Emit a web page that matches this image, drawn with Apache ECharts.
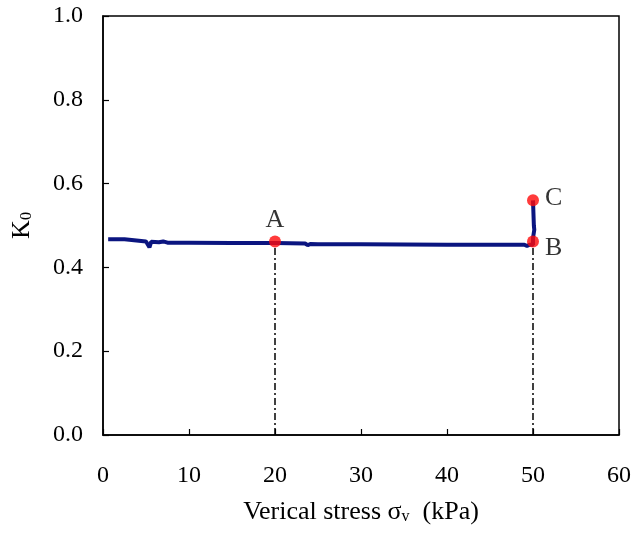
<!DOCTYPE html>
<html>
<head>
<meta charset="utf-8">
<script src="https://cdn.jsdelivr.net/npm/echarts@6/dist/echarts.min.js"></script>
<style>
  html, body { margin: 0; padding: 0; background: #fff; }
  #main { width: 634px; height: 538px; }
</style>
</head>
<body>
<div id="main"></div>
<script>
// measured K0 curve (stress kPa, K0)
var k0Curve = [
  [0.6, 0.467], [2.5, 0.467], [2.7, 0.463], [5.0, 0.462], [5.2, 0.465],
  [5.4, 0.448], [5.6, 0.461], [6.5, 0.460], [7.0, 0.462], [7.5, 0.459],
  [10, 0.459], [15, 0.458], [20, 0.458], [23.5, 0.457], [23.8, 0.453],
  [24.1, 0.456], [25, 0.455], [30, 0.455], [40, 0.454], [45, 0.454],
  [45.2, 0.452], [45.4, 0.454], [49, 0.454], [49.3, 0.451], [49.6, 0.454],
  [50, 0.454], [50, 0.47], [50.15, 0.49], [50.1, 0.5], [50, 0.56]
];
// key points
var pointNames = ['A', 'B', 'C'];
var pointValues = [[20, 0.462], [50, 0.462], [50, 0.56]];
// drop lines
var dropA = [[20, 0], [20, 0.462]];
var dropB = [[50, 0], [50, 0.462]];
var xTicks = [0, 10, 20, 30, 40, 50, 60];
var yTicks = [0, 0.2, 0.4, 0.6, 0.8, 1.0];

var font = 'Liberation Serif, Times New Roman, serif';
var chart = echarts.init(document.getElementById('main'));

var labelPos = { A: 'top', B: 'right', C: 'right' };
var labelOff = { A: [0, 2], B: [2, 7], C: [2, -2] };

chart.setOption({
  animation: false,
  grid: {
    left: 103, right: 13, top: 16, bottom: 103,
    show: true, borderColor: '#000', borderWidth: 1.5
  },
  xAxis: {
    type: 'value', min: 0, max: 60, interval: 10,
    axisLine: { lineStyle: { color: '#000', width: 1.5 } },
    axisTick: { inside: true, length: 6, lineStyle: { color: '#000', width: 1.2 } },
    splitLine: { show: false },
    axisLabel: { color: '#000', fontFamily: font, fontSize: 24, margin: 29 },
    name: '{n|Verical stress σ}{s|v}{n|  (kPa)}',
    nameLocation: 'middle', nameGap: 64,
    nameTextStyle: {
      rich: {
        n: { fontFamily: font, fontSize: 26, color: '#000' },
        s: { fontFamily: font, fontSize: 16, color: '#000', verticalAlign: 'bottom', padding: [10, 0, 0, 0] }
      }
    }
  },
  yAxis: {
    type: 'value', min: 0, max: 1, interval: 0.2,
    axisLine: { lineStyle: { color: '#000', width: 1.5 } },
    axisTick: { inside: true, length: 6, lineStyle: { color: '#000', width: 1.2 } },
    splitLine: { show: false },
    axisLabel: {
      color: '#000', fontFamily: font, fontSize: 24, margin: 20,
      formatter: function (v) { return v.toFixed(1); }
    },
    name: '{n|K}{s|0}',
    nameLocation: 'middle', nameGap: 68, nameRotate: 90,
    nameTextStyle: {
      rich: {
        n: { fontFamily: font, fontSize: 26, color: '#000' },
        s: { fontFamily: font, fontSize: 16, color: '#000', verticalAlign: 'bottom', padding: [10, 0, 0, 0] }
      }
    }
  },
  series: [
    {
      type: 'line', data: dropA, symbol: 'none', silent: true,
      lineStyle: { color: '#000', width: 1.5, type: [7, 3, 2, 3] }
    },
    {
      type: 'line', data: dropB, symbol: 'none', silent: true,
      lineStyle: { color: '#000', width: 1.5, type: [7, 3, 2, 3] }
    },
    {
      type: 'line', data: k0Curve, symbol: 'none',
      lineStyle: { color: '#0b1580', width: 4 }
    },
    {
      type: 'scatter', symbolSize: 12,
      itemStyle: { color: '#ff0a0a' },
      data: pointValues.map(function (p, i) {
        var n = pointNames[i];
        return {
          value: p, name: n,
          label: {
            show: true, formatter: n, position: labelPos[n], offset: labelOff[n],
            fontFamily: font, fontSize: 26, color: '#000', distance: 4
          }
        };
      }),
      z: 5
    }
  ]
});
</script>
</body>
</html>
